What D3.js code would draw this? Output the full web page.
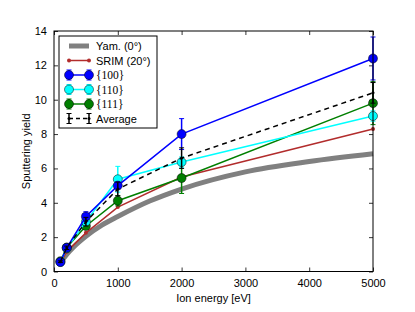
<!DOCTYPE html>
<html>
<head>
  <meta charset="utf-8">
  <title>Sputtering yield</title>
  <style>
    body { margin: 0; background: #fff; }
    svg { font-family: "Liberation Sans", Arial, sans-serif; }
  </style>
</head>
<body>
  <svg id="main" width="415" height="312"></svg>

  <script src="https://cdn.jsdelivr.net/npm/d3@7"></script>
  <script>

    // ion energies of the simulation points
    const energies = [100, 200, 500, 1000, 2000, 5000]

    const yield100 = [0.55, 1.38, 3.2, 5.0, 8.0, 12.4]
    const err100 = [0.05, 0.1, 0.28, 0.2, 0.9, 1.25]
    const yield110 = [0.55, 1.35, 2.9, 5.37, 6.37, 9.05]
    const err110 = [0.05, 0.1, 0.2, 0.75, 0.3, 0.3]
    const yield111 = [0.6, 1.4, 2.65, 4.12, 5.44, 9.8]
    const err111 = [0.05, 0.1, 0.15, 0.3, 0.9, 1.25]
    const yieldAvg = [0.57, 1.38, 2.9, 4.8, 6.6, 10.4]
    const errAvg = [0.05, 0.1, 0.25, 0.4, 0.6, 0.6]

    const srimYield = [0.5, 1.15, 2.25, 3.75, 5.5, 8.3]

    // Yamamura curve
    const yamEnergy = [100, 200, 300, 500, 750, 1000, 1500, 2000, 3000, 4000, 5000]
    const yamYield = [0.5, 1.0, 1.4, 2.05, 2.7, 3.2, 4.1, 4.8, 5.8, 6.4, 6.85]

    const xTicks = [0, 1000, 2000, 3000, 4000, 5000]
    const yTicks = [0, 2, 4, 6, 8, 10, 12, 14]

    const svg = d3.select('#main')
    const margin = { top: 31, right: 42, bottom: 40.5, left: 54 }
    const width = +svg.attr('width')
    const height = +svg.attr('height')
    const innerWidth = width - margin.left - margin.right
    const innerHeight = height - margin.top - margin.bottom

    const chart = svg.append('g')
      .attr('transform', `translate(${margin.left},${margin.top})`)

    const xScale = d3.scaleLinear().domain([0, 5000]).range([0, innerWidth])
    const yScale = d3.scaleLinear().domain([0, 14]).range([innerHeight, 0])

    // axes with inward ticks on all four sides
    function styleAxis(g) {
      g.select('.domain').remove()
      g.selectAll('.tick line').attr('stroke', '#000').attr('stroke-width', 0.8)
      g.selectAll('.tick text').attr('font-size', '11px').attr('fill', '#000')
        .attr('font-family', '"Liberation Sans", Arial, sans-serif')
    }

    chart.append('g')
      .attr('transform', `translate(0,${innerHeight})`)
      .call(d3.axisBottom(xScale).tickValues(xTicks).tickSize(-4).tickPadding(8).tickFormat(d3.format('d')))
      .call(styleAxis)
    chart.append('g')
      .call(d3.axisTop(xScale).tickValues(xTicks).tickSize(-4))
      .call(styleAxis)
      .call(g => g.selectAll('.tick text').remove())
    chart.append('g')
      .call(d3.axisLeft(yScale).tickValues(yTicks).tickSize(-4).tickPadding(7))
      .call(styleAxis)
    chart.append('g')
      .attr('transform', `translate(${innerWidth},0)`)
      .call(d3.axisRight(yScale).tickValues(yTicks).tickSize(-4))
      .call(styleAxis)
      .call(g => g.selectAll('.tick text').remove())

    const plot = chart.append('g')

    // Yamamura
    plot.append('path')
      .datum(yamEnergy.map((e, i) => [e, yamYield[i]]))
      .attr('fill', 'none')
      .attr('stroke', '#808080')
      .attr('stroke-width', 5)
      .attr('d', d3.line().curve(d3.curveMonotoneX)
        .x(d => xScale(d[0])).y(d => yScale(d[1])))

    // SRIM
    const srim = energies.map((e, i) => [e, srimYield[i]])
    plot.append('path')
      .datum(srim)
      .attr('fill', 'none')
      .attr('stroke', '#b22c2c')
      .attr('stroke-width', 1.5)
      .attr('d', d3.line().x(d => xScale(d[0])).y(d => yScale(d[1])))
    plot.selectAll('.srim').data(srim).join('circle')
      .attr('cx', d => xScale(d[0])).attr('cy', d => yScale(d[1]))
      .attr('r', 2).attr('fill', '#b22c2c')

    const series = [
      { name: '{111}', ys: yield111, err: err111, color: '#007f00', r: 4.5, dash: null },
      { name: '{110}', ys: yield110, err: err110, color: '#00ffff', r: 4.5, dash: null },
      { name: '{100}', ys: yield100, err: err100, color: '#0000ff', r: 4.5, dash: null },
      { name: 'Average', ys: yieldAvg, err: errAvg, color: '#000000', r: 1.5, dash: '5,4' }
    ]

    series.forEach(s => {
      const pts = energies.map((e, i) => ({ e, y: s.ys[i], err: s.err[i] }))
      plot.append('path')
        .datum(pts)
        .attr('fill', 'none')
        .attr('stroke', s.color)
        .attr('stroke-width', 1.5)
        .attr('stroke-dasharray', s.dash)
        .attr('d', d3.line().x(d => xScale(d.e)).y(d => yScale(d.y)))
      const eb = plot.append('g')
      pts.forEach(d => {
        const x = xScale(d.e)
        const y0 = yScale(d.y - d.err), y1 = yScale(d.y + d.err)
        eb.append('line').attr('x1', x).attr('x2', x).attr('y1', y0).attr('y2', y1)
          .attr('stroke', s.color).attr('stroke-width', 1.5)
        ;[y0, y1].forEach(yy => eb.append('line')
          .attr('x1', x - 2.5).attr('x2', x + 2.5).attr('y1', yy).attr('y2', yy)
          .attr('stroke', s.color).attr('stroke-width', 1))
      })
      plot.selectAll(null).data(pts).join('circle')
        .attr('cx', d => xScale(d.e)).attr('cy', d => yScale(d.y))
        .attr('r', s.r).attr('fill', s.color)
        .attr('stroke', '#000').attr('stroke-width', s.r > 2 ? 0.5 : 0)
    })

    // frame
    chart.append('rect')
      .attr('width', innerWidth).attr('height', innerHeight)
      .attr('fill', 'none').attr('stroke', '#000').attr('stroke-width', 1)

    // legend
    const legendItems = [
      { label: 'Yam. (0°)', color: '#808080', type: 'thick' },
      { label: 'SRIM (20°)', color: '#b22c2c', type: 'dot' },
      { label: '{100}', color: '#0000ff', type: 'marker', serif: true },
      { label: '{110}', color: '#00ffff', type: 'marker', serif: true },
      { label: '{111}', color: '#007f00', type: 'marker', serif: true },
      { label: 'Average', color: '#000000', type: 'avg' }
    ]
    const legend = chart.append('g').attr('transform', 'translate(5,5)')
    legend.append('rect')
      .attr('width', 98).attr('height', 92)
      .attr('fill', '#fff').attr('stroke', '#000').attr('stroke-width', 1)
    legendItems.forEach((it, i) => {
      const y = 10 + i * 14.5
      const g = legend.append('g').attr('transform', `translate(0,${y})`)
      const x1 = 10, x2 = 30
      g.append('line').attr('x1', x1).attr('x2', x2).attr('y1', 0).attr('y2', 0)
        .attr('stroke', it.color)
        .attr('stroke-width', it.type === 'thick' ? 5 : 1.5)
        .attr('stroke-dasharray', it.type === 'avg' ? '4,3' : null)
      if (it.type !== 'thick') {
        [x1, x2].forEach(x => {
          if (it.type === 'marker' || it.type === 'avg') {
            g.append('line').attr('x1', x).attr('x2', x).attr('y1', -5).attr('y2', 5)
              .attr('stroke', it.color).attr('stroke-width', 1.5)
            ;[-5, 5].forEach(yy => g.append('line').attr('x1', x - 2.5).attr('x2', x + 2.5)
              .attr('y1', yy).attr('y2', yy).attr('stroke', it.color).attr('stroke-width', 1))
          }
          g.append('circle').attr('cx', x).attr('cy', 0)
            .attr('r', it.type === 'marker' ? 4.5 : it.type === 'avg' ? 1.5 : 2)
            .attr('fill', it.color)
            .attr('stroke', '#000').attr('stroke-width', it.type === 'marker' ? 0.5 : 0)
        })
      }
      g.append('text').text(it.label)
        .attr('x', 37).attr('y', 4)
        .attr('font-size', it.serif ? '11.5px' : '11px')
        .attr('font-family', it.serif ? '"Liberation Serif", serif' : '"Liberation Sans", Arial, sans-serif')
    })

    // axis titles
    svg.append('text').text('Ion energy [eV]')
      .attr('x', margin.left + innerWidth / 2).attr('y', 302)
      .attr('text-anchor', 'middle').attr('font-size', '11px')
    svg.append('text').text('Sputtering yield')
      .attr('transform', `translate(30,${margin.top + innerHeight / 2}) rotate(-90)`)
      .attr('text-anchor', 'middle').attr('font-size', '11px')

  </script>
</body>
</html>
